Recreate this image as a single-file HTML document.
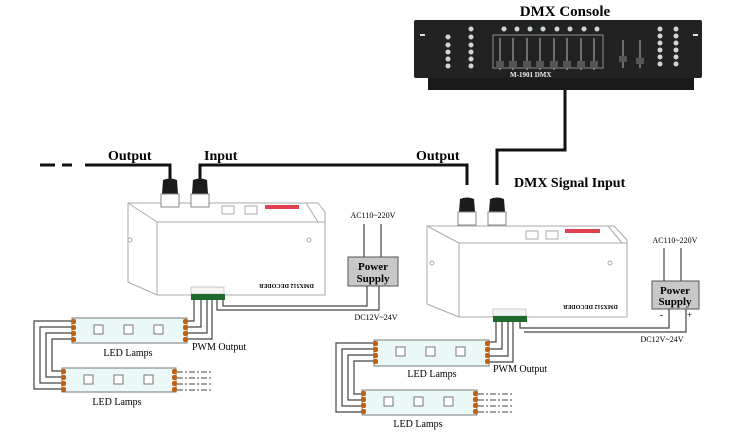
<!DOCTYPE html>
<html><head><meta charset="utf-8"><style>
html,body{margin:0;padding:0;background:#fff;}
svg{display:block;}
text{font-family:"Liberation Serif",serif;}
</style></head><body>
<svg width="734" height="436" viewBox="0 0 734 436" xmlns="http://www.w3.org/2000/svg">
<rect width="734" height="436" fill="#fff"/>
<!-- Console -->
<text x="565" y="16" font-size="15" font-weight="bold" text-anchor="middle">DMX Console</text>
<rect x="428" y="75" width="266" height="15" fill="#1a1a1a"/>
<rect x="414" y="20" width="288" height="58" fill="#222" rx="2"/>
<g fill="#ddd">
<rect x="420" y="34" width="5" height="2"/><rect x="693" y="34" width="5" height="2"/>
</g>
<g fill="#cfd8d0">
<circle cx="448" cy="37" r="2.5"/><circle cx="448" cy="45" r="2.5"/><circle cx="448" cy="52" r="2.5"/><circle cx="448" cy="59" r="2.5"/><circle cx="448" cy="66" r="2.5"/>
<circle cx="471" cy="29" r="2.5"/><circle cx="471" cy="37" r="2.5"/><circle cx="471" cy="45" r="2.5"/><circle cx="471" cy="52" r="2.5"/><circle cx="471" cy="59" r="2.5"/><circle cx="471" cy="66" r="2.5"/>
<circle cx="504" cy="29" r="2.5"/><circle cx="517" cy="29" r="2.5"/><circle cx="530" cy="29" r="2.5"/><circle cx="543" cy="29" r="2.5"/><circle cx="557" cy="29" r="2.5"/><circle cx="570" cy="29" r="2.5"/><circle cx="584" cy="29" r="2.5"/><circle cx="597" cy="29" r="2.5"/>
<circle cx="660" cy="29" r="2.5"/><circle cx="660" cy="36" r="2.5"/><circle cx="660" cy="43" r="2.5"/><circle cx="660" cy="50" r="2.5"/><circle cx="660" cy="57" r="2.5"/><circle cx="660" cy="64" r="2.5"/>
<circle cx="676" cy="29" r="2.5"/><circle cx="676" cy="36" r="2.5"/><circle cx="676" cy="43" r="2.5"/><circle cx="676" cy="50" r="2.5"/><circle cx="676" cy="57" r="2.5"/><circle cx="676" cy="64" r="2.5"/>
</g>
<rect x="493" y="35" width="110" height="33" fill="none" stroke="#aaa" stroke-width="0.8"/>
<g stroke="#bbb" stroke-width="1">
<line x1="500" y1="38" x2="500" y2="70"/><line x1="513" y1="38" x2="513" y2="70"/><line x1="527" y1="38" x2="527" y2="70"/><line x1="540" y1="38" x2="540" y2="70"/><line x1="554" y1="38" x2="554" y2="70"/><line x1="567" y1="38" x2="567" y2="70"/><line x1="581" y1="38" x2="581" y2="70"/><line x1="594" y1="38" x2="594" y2="70"/>
<line x1="623" y1="40" x2="623" y2="68"/><line x1="640" y1="40" x2="640" y2="68"/>
</g>
<g fill="#555"><rect x="496" y="61" width="8" height="7"/><rect x="509" y="61" width="8" height="7"/><rect x="523" y="61" width="8" height="7"/><rect x="536" y="61" width="8" height="7"/><rect x="550" y="61" width="8" height="7"/><rect x="563" y="61" width="8" height="7"/><rect x="577" y="61" width="8" height="7"/><rect x="590" y="61" width="8" height="7"/><rect x="619" y="56" width="8" height="6"/><rect x="636" y="58" width="8" height="6"/></g>
<text x="510" y="77" font-size="7" fill="#eee" font-family="Liberation Sans" font-weight="bold">M-1901  DMX</text>
<!-- cables -->
<g fill="none" stroke="#111" stroke-width="3">
<polyline points="565,90 565,150 497,150 497,185"/>
<polyline points="200,185 200,165 467,165 467,185"/>
<polyline points="85,165 170,165 170,185"/>
<line x1="40" y1="165" x2="55" y2="165"/><line x1="62" y1="165" x2="72" y2="165"/>
</g>
<text x="108" y="160" font-size="14" font-weight="bold">Output</text>
<text x="204" y="160" font-size="14" font-weight="bold">Input</text>
<text x="416" y="160" font-size="14" font-weight="bold">Output</text>
<text x="514" y="187" font-size="14" font-weight="bold">DMX Signal Input</text>
<!-- decoder 1 -->
<g fill="none" stroke="#aaa" stroke-width="1">
<path d="M128,203 L318,203 L325,212 L325,295 L157,295 L128,282 Z"/>
<path d="M157,222 L325,222 M157,222 L157,295 M128,203 L157,222 M306,203 L318,222"/>
<circle cx="130" cy="240" r="2"/><circle cx="309" cy="240" r="2"/>
<rect x="222" y="206" width="12" height="8"/><rect x="245" y="206" width="12" height="8"/>
</g>
<rect x="265" y="205" width="34" height="4" fill="#e04050"/>
<text x="305" y="288" font-size="6" font-family="Liberation Sans" font-weight="bold" text-anchor="end" transform="rotate(180 282 286)">DMX512 DECODER</text>
<!-- decoder 2 -->
<g fill="none" stroke="#aaa" stroke-width="1">
<path d="M427,226 L614,226 L627,240 L627,317 L459,317 L427,304 Z"/>
<path d="M459,243 L627,243 M459,243 L459,317 M427,226 L459,243 M608,226 L622,243"/>
<circle cx="432" cy="263" r="2"/><circle cx="610" cy="263" r="2"/>
<rect x="526" y="231" width="12" height="8"/><rect x="546" y="231" width="12" height="8"/>
</g>
<rect x="565" y="229" width="35" height="4" fill="#e04050"/>
<text x="617" y="309" font-size="6" font-family="Liberation Sans" font-weight="bold" text-anchor="end" transform="rotate(180 590 307)">DMX512 DECODER</text>
<!-- connectors -->
<g>
<path d="M163,180 Q170,177 177,180 L178,194 L162,194 Z" fill="#1c1c1c"/>
<rect x="161" y="194" width="18" height="13" fill="#fff" stroke="#888"/>
<path d="M193,180 Q200,177 207,180 L208,194 L192,194 Z" fill="#1c1c1c"/>
<rect x="191" y="194" width="18" height="13" fill="#fff" stroke="#888"/>
<path d="M460,199 Q467,196 474,199 L475,212 L459,212 Z" fill="#1c1c1c"/>
<rect x="458" y="212" width="18" height="13" fill="#fff" stroke="#888"/>
<path d="M490,199 Q497,196 504,199 L505,212 L489,212 Z" fill="#1c1c1c"/>
<rect x="488" y="212" width="18" height="13" fill="#fff" stroke="#888"/>
</g>
<!-- terminal blocks -->
<rect x="191" y="287" width="33" height="7" fill="#f4f4f4" stroke="#aaa" stroke-width="0.6"/>
<rect x="191" y="294" width="34" height="6" fill="#1f6a2a"/>
<rect x="493" y="309" width="33" height="7" fill="#f4f4f4" stroke="#aaa" stroke-width="0.6"/>
<rect x="493" y="316" width="34" height="6" fill="#1f6a2a"/>
<!-- power supplies -->
<rect x="348" y="257" width="50" height="29" fill="#c8c8c8" stroke="#555"/>
<text x="373" y="270" font-size="11" font-weight="bold" text-anchor="middle">Power</text>
<text x="373" y="282" font-size="11" font-weight="bold" text-anchor="middle">Supply</text>
<text x="373" y="218" font-size="8" text-anchor="middle">AC110~220V</text>
<text x="376" y="320" font-size="8" text-anchor="middle">DC12V~24V</text>
<rect x="652" y="281" width="47" height="28" fill="#c8c8c8" stroke="#555"/>
<text x="675" y="294" font-size="11" font-weight="bold" text-anchor="middle">Power</text>
<text x="675" y="305" font-size="11" font-weight="bold" text-anchor="middle">Supply</text>
<text x="675" y="243" font-size="8" text-anchor="middle">AC110~220V</text>
<text x="662" y="342" font-size="8" text-anchor="middle">DC12V~24V</text>
<text x="660" y="318" font-size="9" font-weight="bold">-</text>
<text x="687" y="318" font-size="9">+</text>
<g fill="none" stroke="#444" stroke-width="1.2">
<line x1="364" y1="224" x2="364" y2="257"/><line x1="381" y1="224" x2="381" y2="257"/>
<line x1="664" y1="248" x2="664" y2="281"/><line x1="681" y1="248" x2="681" y2="281"/>
<polyline points="367,286 367,306 223,306 223,300"/><polyline points="379,286 379,310 217,310 217,300"/>
<polyline points="669,309 669,328 520,328 520,322"/><polyline points="686,309 686,332 524,332"/>
<!-- pwm wires left -->
<polyline points="194,300 194,321 187,321"/><polyline points="201,300 201,327 187,327"/><polyline points="207,300 207,333 187,333"/><polyline points="212,300 212,339 187,339"/>
<!-- pwm wires right -->
<polyline points="496,322 496,342 489,342"/><polyline points="502,322 502,349 489,349"/><polyline points="508,322 508,356 489,356"/><polyline points="513,322 513,362 489,362"/>
<!-- left chain -->
<polyline points="72,321 34,321 34,389 62,389"/><polyline points="72,327 40,327 40,383 62,383"/><polyline points="72,333 46,333 46,377 62,377"/><polyline points="72,339 52,339 52,371 62,371"/>
<polyline points="374,343 336,343 336,412 362,412"/><polyline points="374,349 342,349 342,406 362,406"/><polyline points="374,355 348,355 348,400 362,400"/><polyline points="374,361 354,361 354,394 362,394"/>
</g>
<g fill="none" stroke="#444" stroke-width="1" stroke-dasharray="6,2,2,2">
<line x1="177" y1="372" x2="212" y2="372"/><line x1="177" y1="378" x2="212" y2="378"/><line x1="177" y1="384" x2="212" y2="384"/><line x1="177" y1="390" x2="212" y2="390"/>
<line x1="478" y1="394" x2="512" y2="394"/><line x1="478" y1="400" x2="512" y2="400"/><line x1="478" y1="406" x2="512" y2="406"/><line x1="478" y1="412" x2="512" y2="412"/>
</g>
<!-- LED strips -->
<g stroke="#777" stroke-width="1" fill="#eaf8f8">
<rect x="72" y="318" width="115" height="25"/>
<rect x="62" y="368" width="114" height="24"/>
<rect x="374" y="340" width="115" height="26"/>
<rect x="362" y="390" width="115" height="25"/>
</g>
<g fill="#fff" stroke="#777">
<rect x="94" y="325" width="9" height="9"/><rect x="124" y="325" width="9" height="9"/><rect x="154" y="325" width="9" height="9"/>
<rect x="84" y="375" width="9" height="9"/><rect x="114" y="375" width="9" height="9"/><rect x="144" y="375" width="9" height="9"/>
<rect x="396" y="347" width="9" height="9"/><rect x="426" y="347" width="9" height="9"/><rect x="456" y="347" width="9" height="9"/>
<rect x="384" y="397" width="9" height="9"/><rect x="414" y="397" width="9" height="9"/><rect x="444" y="397" width="9" height="9"/>
</g>
<g fill="#c06010">
<rect x="71" y="319" width="5" height="5" rx="2"/><rect x="71" y="325" width="5" height="5" rx="2"/><rect x="71" y="331" width="5" height="5" rx="2"/><rect x="71" y="337" width="5" height="5" rx="2"/>
<rect x="183" y="319" width="5" height="5" rx="2"/><rect x="183" y="325" width="5" height="5" rx="2"/><rect x="183" y="331" width="5" height="5" rx="2"/><rect x="183" y="337" width="5" height="5" rx="2"/>
<rect x="61" y="369" width="5" height="5" rx="2"/><rect x="61" y="375" width="5" height="5" rx="2"/><rect x="61" y="381" width="5" height="5" rx="2"/><rect x="61" y="387" width="5" height="5" rx="2"/>
<rect x="172" y="369" width="5" height="5" rx="2"/><rect x="172" y="375" width="5" height="5" rx="2"/><rect x="172" y="381" width="5" height="5" rx="2"/><rect x="172" y="387" width="5" height="5" rx="2"/>
<rect x="373" y="341" width="5" height="5" rx="2"/><rect x="373" y="347" width="5" height="5" rx="2"/><rect x="373" y="353" width="5" height="5" rx="2"/><rect x="373" y="359" width="5" height="5" rx="2"/>
<rect x="485" y="341" width="5" height="5" rx="2"/><rect x="485" y="347" width="5" height="5" rx="2"/><rect x="485" y="353" width="5" height="5" rx="2"/><rect x="485" y="359" width="5" height="5" rx="2"/>
<rect x="361" y="391" width="5" height="5" rx="2"/><rect x="361" y="397" width="5" height="5" rx="2"/><rect x="361" y="403" width="5" height="5" rx="2"/><rect x="361" y="409" width="5" height="5" rx="2"/>
<rect x="473" y="391" width="5" height="5" rx="2"/><rect x="473" y="397" width="5" height="5" rx="2"/><rect x="473" y="403" width="5" height="5" rx="2"/><rect x="473" y="409" width="5" height="5" rx="2"/>
</g>
<text x="128" y="356" font-size="10" text-anchor="middle">LED Lamps</text>
<text x="117" y="405" font-size="10" text-anchor="middle">LED Lamps</text>
<text x="432" y="377" font-size="10" text-anchor="middle">LED Lamps</text>
<text x="418" y="427" font-size="10" text-anchor="middle">LED Lamps</text>
<text x="192" y="350" font-size="10">PWM Output</text>
<text x="493" y="372" font-size="10">PWM Output</text>
</svg>
</body></html>
